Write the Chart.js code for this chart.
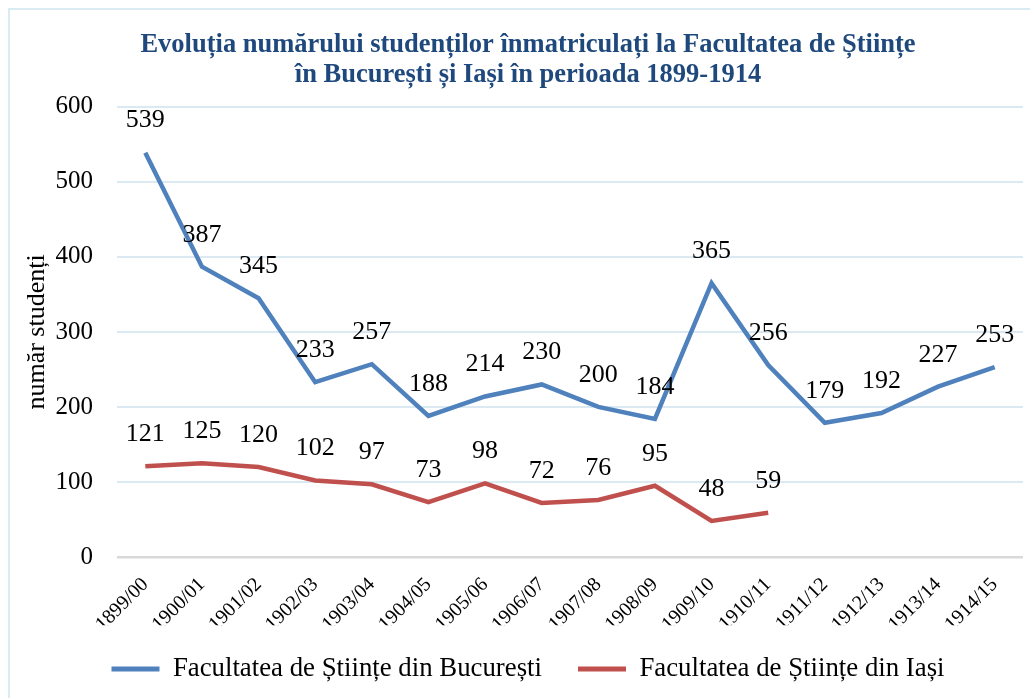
<!DOCTYPE html>
<html>
<head>
<meta charset="utf-8">
<script src="https://cdn.jsdelivr.net/npm/chart.js@4/dist/chart.umd.min.js"></script>
<style>
  html, body { margin: 0; padding: 0; background: #ffffff; }
  #wrap { position: relative; width: 1030px; height: 698px; overflow: hidden; background: #fff; }
  #frame { position: absolute; left: 8px; top: 8px; width: 1100px; height: 800px; border: 2px solid #d9ebf3; box-sizing: border-box; }
  canvas { position: absolute; left: 0; top: 0; }
</style>
</head>
<body>
<div id="wrap">
  <div id="frame"></div>
  <canvas id="c" width="1030" height="698"></canvas>
</div>
<script>
const categories = ["1899/00","1900/01","1901/02","1902/03","1903/04","1904/05","1905/06","1906/07","1907/08","1908/09","1909/10","1910/11","1911/12","1912/13","1913/14","1914/15"];
const bucurestiValues = [539,387,345,233,257,188,214,230,200,184,365,256,179,192,227,253];
const iasiValues = [121,125,120,102,97,73,98,72,76,95,48,59,null,null,null,null];
const seriesNames = ["Facultatea de Științe din București", "Facultatea de Științe din Iași"];
const titleLines = ["Evoluția numărului studenților înmatriculați la Facultatea de Științe", "în București și Iași în perioada 1899-1914"];
const yAxisTitle = "număr studenți";
const yTicks = [0, 100, 200, 300, 400, 500, 600];

const SERIF = "'Liberation Serif', 'Times New Roman', serif";
const PLOT_LEFT = 117, PLOT_BOTTOM = 557, LAYOUT_LEFT = 17;

const dataLabels = {
  id: 'dataLabels',
  afterDatasetsDraw(chart) {
    const ctx = chart.ctx;
    ctx.save();
    ctx.font = "26px " + SERIF;
    ctx.fillStyle = "#000";
    ctx.textAlign = "center";
    ctx.textBaseline = "middle";
    chart.data.datasets.forEach((ds, i) => {
      const meta = chart.getDatasetMeta(i);
      meta.data.forEach((pt, j) => {
        const v = ds.data[j];
        if (v === null || v === undefined) return;
        ctx.fillText(String(v), pt.x, pt.y - 32);
      });
    });
    ctx.restore();
  }
};

const shiftBlocks = {
  id: 'shiftBlocks',
  afterLayout(chart) {
    const lg = chart.legend;
    if (lg) {
      const h = lg.height;
      lg.top = 656 - h / 2; lg.bottom = lg.top + h;
      lg.left += 8; lg.right += 8;
    }
    const tb = chart.titleBlock;
    if (tb) { tb.left += 8; tb.right += 8; }
  }
};

new Chart(document.getElementById('c'), {
  type: 'line',
  data: {
    labels: categories,
    datasets: [
      { label: seriesNames[0], data: bucurestiValues, borderColor: '#4f81bd', backgroundColor: '#4f81bd', borderWidth: 4.5, pointRadius: 0, tension: 0, spanGaps: false },
      { label: seriesNames[1], data: iasiValues, borderColor: '#c0504d', backgroundColor: '#c0504d', borderWidth: 4.5, pointRadius: 0, tension: 0, spanGaps: false }
    ]
  },
  options: {
    responsive: false,
    animation: false,
    layout: { padding: { left: LAYOUT_LEFT, right: 7, top: 0, bottom: 0 } },
    plugins: {
      title: {
        display: true,
        text: titleLines,
        color: '#1f497d',
        font: { family: SERIF, size: 26.5, weight: 'bold', lineHeight: 1.13 },
        padding: { top: 30, bottom: 17 }
      },
      legend: {
        position: 'bottom',
        labels: {
          color: '#000',
          font: { family: SERIF, size: 26.8 },
          boxWidth: 48,
          boxHeight: 5,
          padding: 36,
          generateLabels(chart) {
            return chart.data.datasets.map((ds, i) => ({
              text: ds.label, fillStyle: ds.borderColor, strokeStyle: ds.borderColor,
              lineWidth: 0, hidden: false, datasetIndex: i, fontColor: '#000'
            }));
          }
        }
      },
      tooltip: { enabled: false }
    },
    scales: {
      x: {
        offset: true,
        grid: { display: false, drawTicks: false },
        border: { display: false },
        ticks: { color: '#000', font: { family: SERIF, size: 20 }, minRotation: 45, maxRotation: 45, padding: 16, autoSkip: false },
        afterFit(scale) {
          scale.paddingLeft = 0; scale.paddingRight = 0;
          const lh = scale.chart.legend ? scale.chart.legend.height : 0;
          scale.height = 698 - PLOT_BOTTOM - lh;
        }
      },
      y: {
        min: 0, max: 600,
        afterBuildTicks(scale) { scale.ticks = yTicks.map(v => ({ value: v })); },
        ticks: { color: '#000', font: { family: SERIF, size: 25 }, padding: 24 },
        grid: {
          drawTicks: false,
          color: (c) => c.tick && c.tick.value === 0 ? '#d9d9d9' : '#dbeaf2',
          lineWidth: (c) => c.tick && c.tick.value === 0 ? 2.5 : 2
        },
        border: { display: false },
        title: { display: true, text: yAxisTitle, color: '#000', font: { family: SERIF, size: 26, lineHeight: 1.2 }, padding: 5 },
        afterFit(scale) { scale.width = PLOT_LEFT - LAYOUT_LEFT; }
      }
    }
  },
  plugins: [dataLabels, shiftBlocks]
});
</script>
</body>
</html>
